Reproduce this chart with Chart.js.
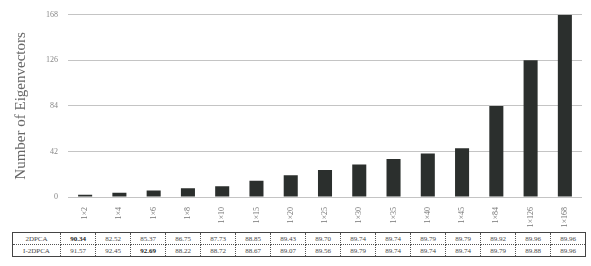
<!DOCTYPE html>
<html>
<head>
<meta charset="utf-8">
<script src="https://cdn.jsdelivr.net/npm/chart.js@4"></script>
<style>
  html, body { margin: 0; padding: 0; background: #fff; }
  #Lienzo { position: absolute; left: 0; top: 0; width: 591px; height: 228px; }
  #Tabla {
    position: absolute; left: 12px; top: 232px;
    border-collapse: collapse; border: 1px solid #444;
    font-family: "Liberation Serif", "DejaVu Serif", serif; font-size: 7px; color: #4a4a4a;
    table-layout: fixed;
  }
  #Tabla td {
    border: 1px dotted #555; height: 11px; padding: 0; text-align: center; width: 34px;
  }
  #Tabla td.Nombre { width: 47px; }
  #Tabla td.Negrita { font-weight: bold; color: #222; }
</style>
</head>
<body>
<canvas id="Lienzo" width="591" height="228"></canvas>
<table id="Tabla"><tbody id="CuerpoTabla"></tbody></table>
<script>
const Etiquetas  = ['1×2', '1×4', '1×6', '1×8', '1×10', '1×15', '1×20', '1×25', '1×30', '1×35', '1×40', '1×45', '1×84', '1×126', '1×168'];
const Vectores   = [2, 4, 6, 8, 10, 15, 20, 25, 30, 35, 40, 45, 84, 126, 168];
const TicksY     = [0, 42, 84, 126, 168];
const Tasa2DPCA  = ['90.34', '82.52', '85.37', '86.75', '87.73', '88.85', '89.43', '89.70', '89.74', '89.74', '89.79', '89.79', '89.92', '89.96', '89.96'];
const TasaI2DPCA = ['91.57', '92.45', '92.69', '88.22', '88.72', '88.67', '89.07', '89.56', '89.79', '89.74', '89.74', '89.74', '89.79', '89.88', '89.96'];

const Serif = '"Liberation Serif", "DejaVu Serif", serif';

new Chart(document.getElementById('Lienzo').getContext('2d'), {
  type: 'bar',
  data: {
    labels: Etiquetas,
    datasets: [{
      data: Vectores,
      backgroundColor: '#2b2f2d',
      borderWidth: 0,
      barPercentage: 0.82,
      categoryPercentage: 0.5
    }]
  },
  options: {
    responsive: false,
    animation: false,
    layout: { padding: { top: 12, right: 9, left: 0, bottom: 0 } },
    plugins: { legend: { display: false }, tooltip: { enabled: false } },
    scales: {
      x: {
        grid: { display: false },
        border: { display: false },
        ticks: { maxRotation: 90, minRotation: 90, color: '#777', font: { family: Serif, size: 8 }, padding: 2 },
        afterFit: S => { S.height = 31; }
      },
      y: {
        min: 0,
        max: 168,
        afterBuildTicks: S => { S.ticks = TicksY.map(V => ({ value: V })); },
        grid: { color: '#c4c4c4', borderDash: [1, 2], lineWidth: 1, drawTicks: false },
        border: { display: false },
        ticks: { color: '#888', font: { family: Serif, size: 8 }, padding: 10 },
        title: { display: true, text: 'Number of Eigenvectors', color: '#666', font: { family: Serif, size: 15 }, padding: { top: 12, bottom: 0 } },
        afterFit: S => { S.width = 68; }
      }
    }
  }
});

// Tabla
const Fila = (Nombre, Valores) => `
  <tr>
    <td class="Nombre">${Nombre}</td>
    ${Valores.map(V => `<td class="${V === '90.34' || V === '92.69' ? 'Negrita' : ''}">${V}</td>`).join('')}
  </tr>`;
document.getElementById('CuerpoTabla').innerHTML = Fila('2DPCA', Tasa2DPCA) + Fila('I-2DPCA', TasaI2DPCA);
</script>
</body>
</html>
